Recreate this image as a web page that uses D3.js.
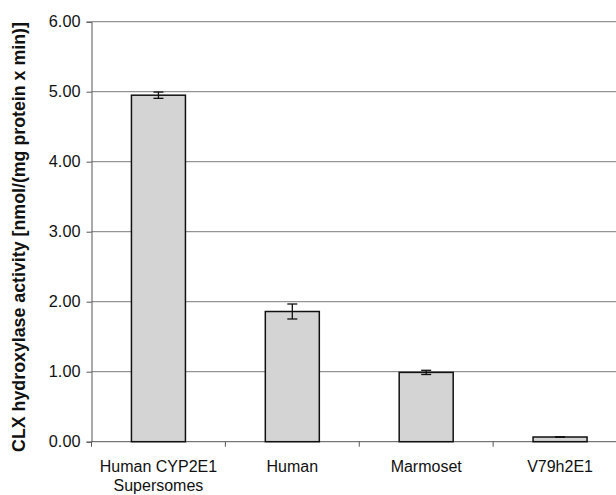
<!DOCTYPE html>
<html>
<head>
<meta charset="utf-8">
<script src="https://cdn.jsdelivr.net/npm/d3@7"></script>
<style>
  html, body { margin: 0; padding: 0; background: #fff; }
  svg { display: block; }
  text { font-family: "Liberation Sans", Arial, sans-serif; fill: #111; }
</style>
</head>
<body>
<svg id="chart" width="616" height="495"></svg>
<script>
// CLX hydroxylase activity by enzyme source
const categories = [["Human CYP2E1", "Supersomes"], ["Human"], ["Marmoset"], ["V79h2E1"]];
const activity = [4.95, 1.86, 0.99, 0.067];
const errors = [0.045, 0.107, 0.03, 0.004];
const yTicks = [0, 1, 2, 3, 4, 5, 6];
const yLabel = "CLX hydroxylase activity [nmol/(mg protein x min)]";

const svg = d3.select("#chart");
const plotLeft = 91.5, plotTop = 21.7, plotBottom = 441.7, plotRight = 627;

const x = d3.scaleBand()
  .domain(d3.range(categories.length))
  .range([plotLeft, plotRight])
  .paddingInner(0.6)
  .paddingOuter(0.3);

const y = d3.scaleLinear().domain([0, 6]).range([plotBottom, plotTop]);

// horizontal gridlines
svg.append("g")
  .selectAll("line")
  .data(yTicks.filter(d => d > 0))
  .join("line")
  .attr("x1", plotLeft).attr("x2", 616)
  .attr("y1", d => y(d)).attr("y2", d => y(d))
  .attr("stroke", "#7a7a7a").attr("stroke-width", 1);

// y axis
const yAxis = svg.append("g")
  .attr("transform", `translate(${plotLeft},0)`)
  .call(d3.axisLeft(y).tickValues(yTicks).tickFormat(d3.format(".2f")).tickSize(5).tickPadding(6));
yAxis.attr("font-size", null).attr("font-family", null);
yAxis.select(".domain").attr("stroke", "#555");
yAxis.selectAll(".tick line").attr("stroke", "#555");
yAxis.selectAll(".tick text")
  .style("font-size", "16.3px")
  .attr("fill", "#111");

// x axis with ticks between categories
const step = x.step();
const xBoundaries = d3.range(categories.length + 1).map(i => plotLeft + i * step);
svg.append("line")
  .attr("x1", plotLeft).attr("x2", 616)
  .attr("y1", plotBottom).attr("y2", plotBottom)
  .attr("stroke", "#555");
svg.append("g")
  .selectAll("line")
  .data(xBoundaries)
  .join("line")
  .attr("x1", d => d).attr("x2", d => d)
  .attr("y1", plotBottom).attr("y2", plotBottom + 5)
  .attr("stroke", "#555");

// bars
const bw = 54;
const cx = i => x(i) + x.bandwidth() / 2;
svg.append("g")
  .selectAll("rect")
  .data(activity)
  .join("rect")
  .attr("x", (d, i) => cx(i) - bw / 2)
  .attr("y", d => y(d))
  .attr("width", bw)
  .attr("height", d => y(0) - y(d))
  .attr("fill", "#d4d4d4")
  .attr("stroke", "#111")
  .attr("stroke-width", 1.5);

// error bars
const eg = svg.append("g").attr("stroke", "#111").attr("stroke-width", 1.3);
activity.forEach((v, i) => {
  const c = cx(i), hi = y(v + errors[i]), lo = y(v - errors[i]);
  eg.append("line").attr("x1", c).attr("x2", c).attr("y1", hi).attr("y2", lo);
  eg.append("line").attr("x1", c - 5).attr("x2", c + 5).attr("y1", hi).attr("y2", hi);
  eg.append("line").attr("x1", c - 5).attr("x2", c + 5).attr("y1", lo).attr("y2", lo);
});

// category labels
const lg = svg.append("g");
categories.forEach((lines, i) => {
  const t = lg.append("text")
    .attr("x", cx(i)).attr("y", 472)
    .attr("text-anchor", "middle")
    .style("font-size", "16px");
  lines.forEach((s, j) => {
    t.append("tspan").attr("x", cx(i)).attr("dy", j === 0 ? 0 : 19).text(s);
  });
});

// y axis title
svg.append("text")
  .attr("transform", "translate(25,237) rotate(-90)")
  .attr("text-anchor", "middle")
  .style("font-size", "17.8px")
  .attr("font-weight", "bold")
  .text(yLabel);
</script>
</body>
</html>
